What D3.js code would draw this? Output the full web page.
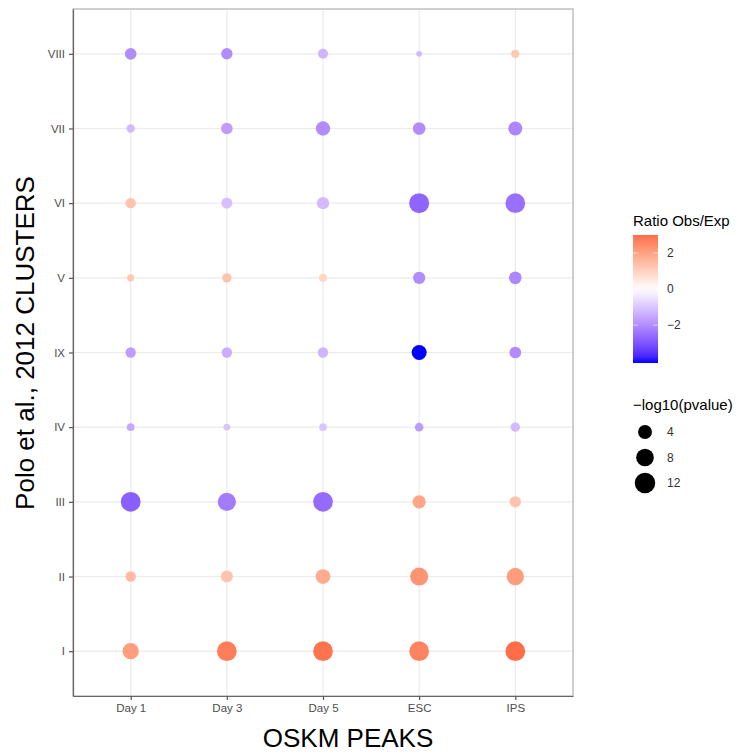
<!DOCTYPE html>
<html>
<head>
<meta charset="utf-8">
<script src="https://cdn.jsdelivr.net/npm/d3@7"></script>
<style>
  body { margin: 0; background: #fff; }
  text { font-family: "Liberation Sans", Arial, Helvetica, sans-serif; }
</style>
</head>
<body>
<svg id="chart" width="741" height="754"></svg>
<script>
// categories
const peaks = ["Day 1", "Day 3", "Day 5", "ESC", "IPS"];
const clusters = ["I", "II", "III", "IV", "IX", "V", "VI", "VII", "VIII"];

// Ratio Obs/Exp, one row per cluster, columns = peaks
const ratioI    = [2.1, 2.7, 2.9, 2.6, 3.0];
const ratioII   = [1.5, 1.3, 1.8, 2.3, 2.1];
const ratioIII  = [-2.8, -2.3, -2.6, 1.9, 1.3];
const ratioIV   = [-1.5, -1.0, -1.0, -1.7, -1.2];
const ratioIX   = [-1.7, -1.4, -1.3, -4.1, -2.0];
const ratioV    = [1.2, 1.3, 0.9, -2.0, -2.1];
const ratioVI   = [1.3, -1.1, -1.2, -2.7, -2.5];
const ratioVII  = [-1.2, -1.7, -2.0, -2.0, -2.1];
const ratioVIII = [-2.0, -2.0, -1.3, -1.2, 1.2];

// -log10(pvalue), same layout
const pvalI    = [6.4, 10.8, 10.8, 10.8, 10.8];
const pvalII   = [1.5, 2.5, 4.8, 8.5, 7.6];
const pvalIII  = [10.8, 8.8, 10.8, 3.5, 2.1];
const pvalIV   = [0.4, 0.2, 0.4, 0.7, 1.0];
const pvalIX   = [1.5, 1.5, 1.5, 5.1, 2.3];
const pvalV    = [0.3, 1.0, 0.5, 2.7, 3.0];
const pvalVI   = [1.5, 1.9, 2.7, 11.2, 10.8];
const pvalVII  = [0.6, 2.3, 4.4, 3.0, 4.1];
const pvalVIII = [2.3, 2.1, 1.3, 0.05, 0.6];

const colorTicks = [2, 0, -2];
const sizeTicks = [4, 8, 12];

const ratioRows = [ratioI, ratioII, ratioIII, ratioIV, ratioIX, ratioV, ratioVI, ratioVII, ratioVIII];
const pvalRows = [pvalI, pvalII, pvalIII, pvalIV, pvalIX, pvalV, pvalVI, pvalVII, pvalVIII];

const data = [];
clusters.forEach((c, i) => peaks.forEach((p, j) => {
  data.push({cluster: c, peak: p, ratio: ratioRows[i][j], pval: pvalRows[i][j]});
}));

const svg = d3.select("#chart");
const panel = {left: 73, right: 573, top: 9, bottom: 696};

const x = d3.scalePoint().domain(peaks).range([panel.left, panel.right]).padding(0.6);
const y = d3.scalePoint().domain(clusters.slice().reverse()).range([panel.top, panel.bottom]).padding(0.6);

const ratioExt = d3.extent(data, d => d.ratio);
const m = d3.max(ratioExt, Math.abs);
const color = d3.scaleLinear().domain([-m, 0, m]).range(["blue", "white", "red"]).interpolate(d3.interpolateLab);
const size = d3.scaleSqrt().domain([0, 15]).range([2.4, 11.2]);

// gridlines
const grid = svg.append("g").attr("stroke", "#ebebeb").attr("stroke-width", 1.2);
grid.selectAll(".gx").data(peaks).join("line")
  .attr("x1", d => x(d)).attr("x2", d => x(d)).attr("y1", panel.top).attr("y2", panel.bottom);
grid.selectAll(".gy").data(clusters).join("line")
  .attr("y1", d => y(d)).attr("y2", d => y(d)).attr("x1", panel.left).attr("x2", panel.right);

// border
svg.append("rect").attr("x", panel.left).attr("y", panel.top)
  .attr("width", panel.right - panel.left).attr("height", panel.bottom - panel.top)
  .attr("fill", "none").attr("stroke", "#b0b0b0").attr("stroke-width", 1.2);

// points
svg.append("g").selectAll("circle").data(data).join("circle")
  .attr("cx", d => x(d.peak)).attr("cy", d => y(d.cluster))
  .attr("r", d => size(d.pval)).attr("fill", d => color(d.ratio));

// axes
const xAxis = svg.append("g").attr("transform", `translate(0,${panel.bottom})`)
  .call(d3.axisBottom(x).tickSize(4).tickSizeOuter(0).tickPadding(4));
const yAxis = svg.append("g").attr("transform", `translate(${panel.left},0)`)
  .call(d3.axisLeft(y).tickSize(4).tickSizeOuter(0).tickPadding(4));
[xAxis, yAxis].forEach(a => {
  a.select(".domain").attr("stroke", "#666").attr("stroke-width", 1.2);
  a.selectAll(".tick line").attr("stroke", "#555").attr("stroke-width", 1.2);
  a.selectAll(".tick text").attr("fill", "#4d4d4d").style("font-size", "11.5px")
    .style("font-family", "Liberation Sans, Arial, sans-serif");
});

// axis titles
svg.append("text").attr("x", 348).attr("y", 747).attr("text-anchor", "middle")
  .style("font-size", "26px").attr("fill", "#000").text("OSKM PEAKS");
svg.append("text").attr("transform", "translate(34,343) rotate(-90)").attr("text-anchor", "middle")
  .style("font-size", "26px").attr("fill", "#000").text("Polo et al., 2012 CLUSTERS");

// colour legend
const lg = svg.append("g");
lg.append("text").attr("x", 633).attr("y", 226).style("font-size", "15px").text("Ratio Obs/Exp");
const barTop = 235, barBottom = 363, barX = 633, barW = 25;
const barScale = d3.scaleLinear().domain([ratioExt[1], ratioExt[0]]).range([barTop, barBottom]);
const grad = svg.append("defs").append("linearGradient").attr("id", "cb")
  .attr("x1", 0).attr("y1", 0).attr("x2", 0).attr("y2", 1);
d3.range(0, 1.0001, 0.05).forEach(t => {
  grad.append("stop").attr("offset", t).attr("stop-color", color(barScale.invert(barTop + t * (barBottom - barTop))));
});
lg.append("rect").attr("x", barX).attr("y", barTop).attr("width", barW).attr("height", barBottom - barTop)
  .attr("fill", "url(#cb)");
colorTicks.forEach(v => {
  const yy = barScale(v);
  lg.append("line").attr("x1", barX).attr("x2", barX + 5).attr("y1", yy).attr("y2", yy).attr("stroke", "#fff").attr("stroke-opacity", 0.6);
  lg.append("line").attr("x1", barX + barW - 5).attr("x2", barX + barW).attr("y1", yy).attr("y2", yy).attr("stroke", "#fff").attr("stroke-opacity", 0.6);
  lg.append("text").attr("x", 667).attr("y", yy).attr("dy", "0.35em").style("font-size", "12px")
    .attr("fill", "#333").text(d3.format("")(v).replace("-", "\u2212"));
});

// size legend
lg.append("text").attr("x", 633).attr("y", 410).style("font-size", "15px").text("\u2212log10(pvalue)");
const sizeY = d3.scalePoint().domain(sizeTicks).range([432, 483]);
sizeTicks.forEach(v => {
  lg.append("circle").attr("cx", 645).attr("cy", sizeY(v)).attr("r", size(v)).attr("fill", "#000");
  lg.append("text").attr("x", 667).attr("y", sizeY(v)).attr("dy", "0.35em").style("font-size", "12px")
    .attr("fill", "#333").text(v);
});
</script>
</body>
</html>
